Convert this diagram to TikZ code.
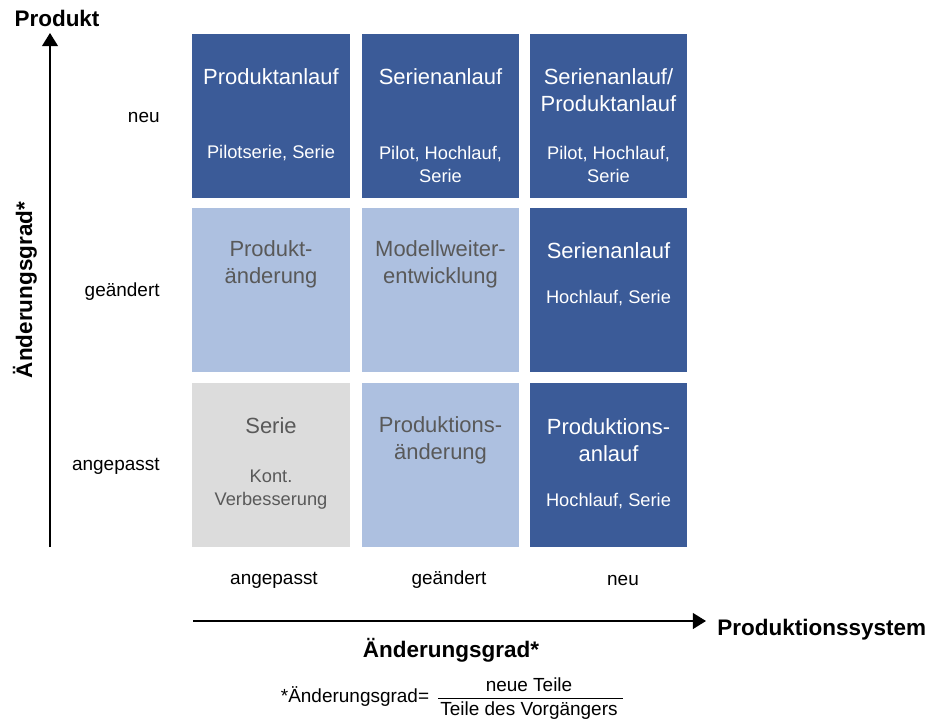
\documentclass[tikz,border=0pt]{standalone}
\usepackage{fontspec}
\setmainfont{Liberation Sans}
\usetikzlibrary{arrows.meta}

\definecolor{darkblue}{HTML}{3B5B98}
\definecolor{lightblue}{HTML}{ADC0E0}
\definecolor{lightgray}{HTML}{DCDCDC}
\definecolor{textgray}{HTML}{595959}

\newcommand\titlesize{\fontsize{12.5}{15.3}\selectfont}
\newcommand\subsize{\fontsize{10.4}{13}\selectfont}
\newcommand\labelsize{\fontsize{10.8}{13}\selectfont}
\newcommand\axissize{\fontsize{12.8}{15}\selectfont\bfseries}

\begin{document}
\begin{tikzpicture}[> = {Triangle[length = 7.5pt, width = 9pt]}, x = 0.02cm, y = -0.02cm,
	cell/.style = {minimum width = 3.16cm, minimum height = 3.28cm, inner sep = 0},
	dark/.style = {cell, fill = darkblue},
	light/.style = {cell, fill = lightblue},
	plain/.style = {cell, fill = lightgray},
	title/.style = {align = center, font = \titlesize, inner sep = 0},
	sub/.style = {align = center, font = \subsize, inner sep = 0},
	tag/.style = {font = \labelsize, inner sep = 0},
	axis/.style = {font = \axissize, inner sep = 0}]

	% Frame
	
	\useasboundingbox (0, 0) rectangle (932, 722);

	% Cells
	
	\node [dark]  (p11) at (271, 116) {};
	\node [dark]  (p12) at (440.5, 116) {};
	\node [dark]  (p13) at (608.5, 116) {};
	\node [light] (p21) at (271, 290) {};
	\node [light] (p22) at (440.5, 290) {};
	\node [dark]  (p23) at (608.5, 290) {};
	\node [plain] (p31) at (271, 465) {};
	\node [light] (p32) at (440.5, 465) {};
	\node [dark]  (p33) at (608.5, 465) {};

	% Cell texts
	
	\node [title, white] (t11) at (271, 77) {Produktanlauf};
	\node [sub, white]   (s11) at (271, 153) {Pilotserie, Serie};
	\node [title, white] (t12) at (440.5, 77) {Serienanlauf};
	\node [sub, white]   (s12) at (440.5, 164.5) {Pilot, Hochlauf,\\Serie};
	\node [title, white] (t13) at (608.5, 90.5) {Serienanlauf/\\Produktanlauf};
	\node [sub, white]   (s13) at (608.5, 164.5) {Pilot, Hochlauf,\\Serie};

	\node [title, textgray] (t21) at (271, 264.5) {Produkt-\\änderung};
	\node [title, textgray] (t22) at (440.5, 264.5) {Modellweiter-\\entwicklung};
	\node [title, white]    (t23) at (608.5, 251) {Serienanlauf};
	\node [sub, white]      (s23) at (608.5, 298) {Hochlauf, Serie};

	\node [title, textgray] (t31) at (271, 426) {Serie};
	\node [sub, textgray]   (s31) at (271, 489.5) {Kont.\\Verbesserung};
	\node [title, textgray] (t32) at (440.5, 440) {Produktions-\\änderung};
	\node [title, white]    (t33) at (608.5, 440) {Produktions-\\anlauf};
	\node [sub, white]      (s33) at (608.5, 501) {Hochlauf, Serie};

	% Product axis
	
	\coordinate (ybot) at (50, 547);
	\coordinate (ytop) at (50, 33);
	\draw [->, line width = 1.1pt] (ybot) -- (ytop);
	\node [axis] (produkt) at (57, 18) {Produkt};
	\node [axis, rotate = 90] (ygrad) at (25, 290) {Änderungsgrad*};

	\node [tag, anchor = east] (yneu) at (160, 117) {neu};
	\node [tag, anchor = east] (ygeae) at (160, 292) {geändert};
	\node [tag, anchor = east] (yang) at (160, 466) {angepasst};

	% Production system axis
	
	\node [tag] (xang) at (274, 580) {angepasst};
	\node [tag] (xgeae) at (449, 580) {geändert};
	\node [tag] (xneu) at (623, 580) {neu};

	\coordinate (xleft) at (193, 621);
	\coordinate (xright) at (706, 621);
	\draw [->, line width = 1.1pt] (xleft) -- (xright);
	\node [axis, anchor = west] (system) at (717, 630) {Produktionssystem};
	\node [axis] (xgrad) at (451, 650) {Änderungsgrad*};

	% Definition
	
	\node [tag] (lhs) at (355, 697) {*Änderungsgrad=};
	\node [tag] (num) at (529, 685) {neue Teile};
	\node [tag] (den) at (529, 711) {Teile des Vorgängers};
	\draw [line width = 0.8pt] ([xshift = -1pt, yshift = 2pt] den.north west) -- ([xshift = 3pt, yshift = 2pt] den.north east);

\end{tikzpicture}
\end{document}
